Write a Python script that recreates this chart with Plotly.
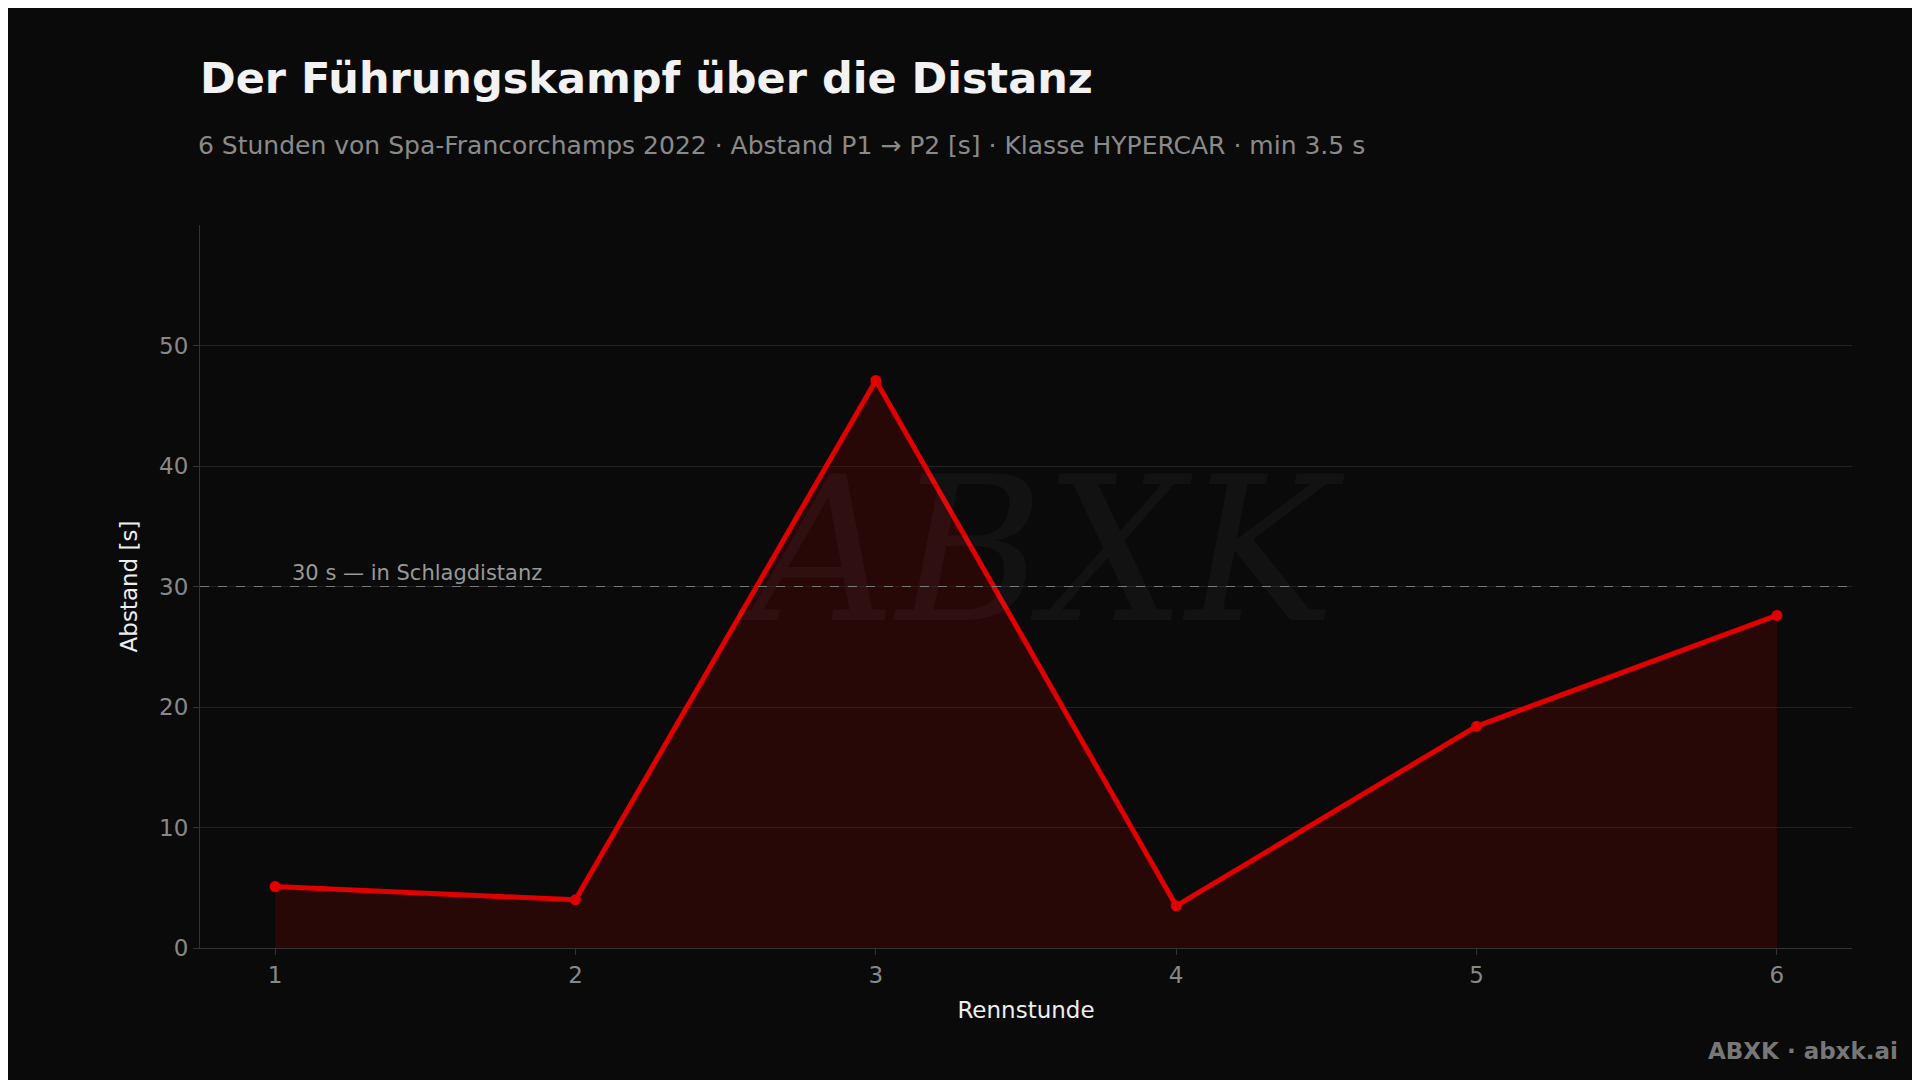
import plotly.graph_objects as go

hours = [1, 2, 3, 4, 5, 6]
gap = [5.1, 4.0, 47.1, 3.5, 18.4, 27.6]
y_ticks = [0, 10, 20, 30, 40, 50]
threshold = 30

fig = go.Figure()
fig.add_trace(go.Scatter(
    x=hours, y=gap, mode="lines+markers",
    line=dict(color="#e00000", width=5),
    marker=dict(size=11, color="#e00000"),
    fill="tozeroy", fillcolor="rgba(120,0,0,0.28)",
    showlegend=False))
fig.add_shape(type="line", xref="paper", x0=0, x1=1, yref="y", y0=threshold, y1=threshold,
              line=dict(color="#777", width=1, dash="dash"))
fig.add_annotation(x=1.05, y=threshold, xref="x", yref="y", text="30 s — in Schlagdistanz",
                   showarrow=False, xanchor="left", yanchor="bottom",
                   font=dict(size=21, color="#999"))
fig.add_annotation(x=3.55, y=33, xref="x", yref="y", text="<i>ABXK</i>", showarrow=False,
                   font=dict(size=200, color="rgba(255,255,255,0.035)", family="DejaVu Serif"))
fig.add_annotation(x=1, y=0, xref="paper", yref="paper", xanchor="right", yanchor="bottom",
                   text="<b>ABXK · abxk.ai</b>", showarrow=False,
                   xshift=48, yshift=-118, font=dict(size=23, color="#777"))
fig.add_annotation(x=0, y=1, xref="paper", yref="paper", xanchor="left", yanchor="middle",
                   text="6 Stunden von Spa-Francorchamps 2022 · Abstand P1 → P2 [s] · Klasse HYPERCAR · min 3.5 s",
                   showarrow=False, xshift=-4, yshift=80, font=dict(size=25, color="#8a8a8a"))

fig.update_layout(
    width=1920, height=1080,
    paper_bgcolor="#0a0a0a", plot_bgcolor="#0a0a0a",
    font=dict(family="DejaVu Sans", color="#ddd"),
    margin=dict(l=192, r=76, t=217, b=140),
    title=dict(text="<b>Der Führungskampf über die Distanz</b>",
               x=0.1, xanchor="left", y=0.935, yanchor="middle",
               font=dict(size=43, color="#f2f2f2")),
    xaxis=dict(range=[0.75, 6.25], tickvals=hours, title=dict(text="Rennstunde", font=dict(size=23, color="#eee")),
               tickfont=dict(size=23, color="#888"), showgrid=False, zeroline=False,
               showline=True, linecolor="#333", ticks="outside", ticklen=6, tickcolor="#333"),
    yaxis=dict(range=[0, 60], tickvals=y_ticks, title=dict(text="Abstand [s]", font=dict(size=23, color="#eee")),
               tickfont=dict(size=23, color="#888"), gridcolor="#222", zeroline=False,
               showline=True, linecolor="#333", ticks="outside", ticklen=6, tickcolor="#333"),
)
fig.write_html("out.html")
